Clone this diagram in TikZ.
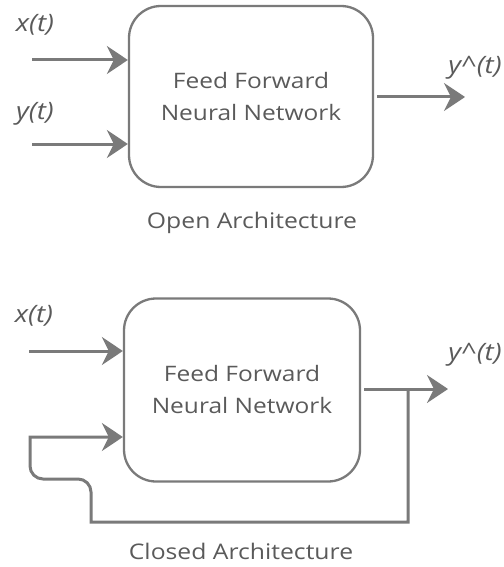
\documentclass[tikz,border=0pt]{standalone}
\usepackage{fontspec}
\setmainfont{Open Sans}[FakeStretch=1.15]
\usetikzlibrary{arrows.meta}
\definecolor{linegray}{RGB}{122,122,122}
\definecolor{textgray}{RGB}{90,90,90}
\begin{document}
\begin{tikzpicture}[x=1pt,y=-1pt,
  nnbox/.style={draw=linegray, line width=2.3pt, rounded corners=32pt, align=center,
    text=textgray, font=\fontsize{21.3}{32}\selectfont, inner sep=0pt},
  conn/.style={draw=linegray, line width=3pt},
  arr/.style={conn, -{Stealth[length=21pt, width=28pt, inset=7pt]}},
  sig/.style={text=textgray, font=\fontsize{24}{26}\selectfont\itshape, inner sep=0pt},
  captxt/.style={text=textgray, font=\fontsize{21.5}{24}\selectfont, inner sep=0pt}]
\useasboundingbox (0,0) rectangle (503,567);
% ---------- Open architecture ----------
\node[nnbox, minimum width=244pt, minimum height=181pt] (b1) at (251,96.5) {Feed Forward\\Neural Network};
\coordinate (x1s) at (32,60);
\coordinate (y1s) at (32,144);
\coordinate (o1e) at (465,97);
\draw[arr] (x1s) -- (x1s -| b1.west);
\draw[arr] (y1s) -- (y1s -| b1.west);
\draw[arr] (b1.east |- o1e) ++(3,0) -- (o1e);
\node[sig] (lx1) at (35,25) {x(t)};
\node[sig] (ly1) at (35,114) {y(t)};
\node[sig] (lo1) at (475,68) {y\^{}(t)};
\node[captxt] (c1) at (252,223) {Open Architecture};
% ---------- Closed architecture ----------
\node[nnbox, minimum width=236pt, minimum height=183pt] (b2) at (242,390) {Feed Forward\\Neural Network};
\coordinate (x2s) at (29,351);
\coordinate (f2s) at (30,437);
\coordinate (o2e) at (448,389);
\coordinate (tap) at (408,389);
\draw[arr] (tap) -- (408,522) -- (91,522) -- (91,492)
  .. controls (91,484.8) and (85.2,479) .. (78,479) -- (43,479)
  .. controls (35.8,479) and (30,473.2) .. (30,466) -- (f2s) -- (f2s -| b2.west);
\draw[arr] (x2s) -- (x2s -| b2.west);
\draw[arr] (b2.east |- o2e) ++(3,0) -- (o2e);
\node[sig] (lx2) at (34,316) {x(t)};
\node[sig] (lo2) at (475,355) {y\^{}(t)};
\node[captxt] (c2) at (241,551) {Closed Architecture};
\end{tikzpicture}
\end{document}
